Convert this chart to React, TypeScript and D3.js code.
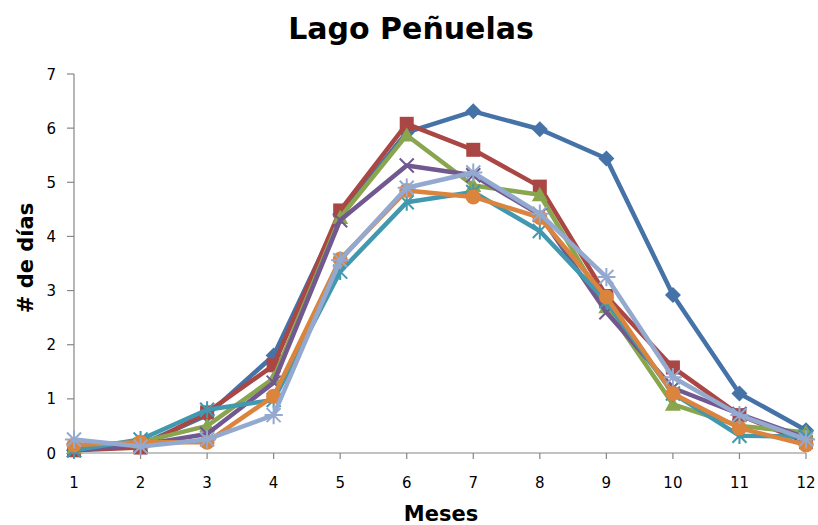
import React from "react";
import * as d3 from "d3";

const months = [1, 2, 3, 4, 5, 6, 7, 8, 9, 10, 11, 12];
const yTicks = [0, 1, 2, 3, 4, 5, 6, 7];

const serie1 = [0.05, 0.15, 0.7, 1.8, 4.4, 5.92, 6.31, 5.98, 5.44, 2.92, 1.1, 0.42];
const serie2 = [0.05, 0.1, 0.75, 1.62, 4.48, 6.08, 5.6, 4.92, 2.9, 1.58, 0.7, 0.2];
const serie3 = [0.1, 0.2, 0.5, 1.38, 4.35, 5.87, 4.94, 4.77, 2.7, 0.9, 0.5, 0.38];
const serie4 = [0.05, 0.15, 0.35, 1.3, 4.3, 5.31, 5.13, 4.4, 2.6, 1.2, 0.72, 0.28];
const serie5 = [0.05, 0.25, 0.8, 0.98, 3.35, 4.63, 4.82, 4.1, 2.8, 1.1, 0.32, 0.3];
const serie6 = [0.15, 0.2, 0.2, 1.05, 3.58, 4.85, 4.73, 4.35, 2.88, 1.1, 0.46, 0.15];
const serie7 = [0.25, 0.12, 0.25, 0.7, 3.56, 4.9, 5.18, 4.42, 3.25, 1.4, 0.7, 0.25];

const seriesList = [serie1, serie2, serie3, serie4, serie5, serie6, serie7];
const colors = ["#4572A7", "#AA4643", "#89A54E", "#71588F", "#4198AF", "#DB843D", "#93A9CF"];
const markers = ["diamond", "square", "triangle", "x", "star", "circle", "asterisk"];

const W = 818;
const H = 525;
const left = 74;
const right = 806;
const top = 74;
const bottom = 453;

function Marker({ type, x, y, color }: { type: string; x: number; y: number; color: string }) {
  const sw = 2;
  if (type === "diamond") {
    const r = 8;
    return <path d={`M${x},${y - r}L${x + r},${y}L${x},${y + r}L${x - r},${y}Z`} fill={color} />;
  }
  if (type === "square") {
    const r = 7;
    return <rect x={x - r} y={y - r} width={2 * r} height={2 * r} fill={color} />;
  }
  if (type === "triangle") {
    const r = 8;
    return <path d={`M${x},${y - r}L${x + r},${y + r * 0.8}L${x - r},${y + r * 0.8}Z`} fill={color} />;
  }
  if (type === "circle") {
    return <circle cx={x} cy={y} r={7.5} fill={color} />;
  }
  if (type === "x") {
    const r = 7;
    return (
      <path d={`M${x - r},${y - r}L${x + r},${y + r}M${x - r},${y + r}L${x + r},${y - r}`} stroke={color} strokeWidth={sw} />
    );
  }
  if (type === "star") {
    const r = 7;
    return (
      <path
        d={`M${x - r},${y - r}L${x + r},${y + r}M${x - r},${y + r}L${x + r},${y - r}M${x},${y - r * 1.2}L${x},${y + r * 1.2}`}
        stroke={color}
        strokeWidth={sw}
      />
    );
  }
  const r = 7;
  return (
    <path
      d={`M${x - r},${y - r}L${x + r},${y + r}M${x - r},${y + r}L${x + r},${y - r}M${x},${y - r * 1.3}L${x},${y + r * 1.3}M${x - r * 1.3},${y}L${x + r * 1.3},${y}`}
      stroke={color}
      strokeWidth={sw}
    />
  );
}

export default function App() {
  const x = d3.scaleLinear().domain([1, 12]).range([left, right]);
  const y = d3.scaleLinear().domain([0, 7]).range([bottom, top]);
  const line = d3
    .line<number>()
    .x((_, i) => x(months[i]))
    .y((d) => y(d));

  return (
    <svg width={W} height={H} style={{ position: "absolute", left: 0, top: 0 }}>
      <rect width={W} height={H} fill="#fff" />
      <text x={411} y={39} textAnchor="middle" fontFamily="DejaVu Sans" fontWeight="bold" fontSize={30} fill="#000">
        Lago Peñuelas
      </text>
      {/* axes */}
      <line x1={left} x2={left} y1={top} y2={bottom} stroke="#868686" strokeWidth={1.2} />
      <line x1={left} x2={right} y1={bottom} y2={bottom} stroke="#868686" strokeWidth={1.2} />
      {yTicks.map((t) => (
        <g key={"y" + t}>
          <line x1={left - 7} x2={left} y1={y(t)} y2={y(t)} stroke="#868686" strokeWidth={1.2} />
          <text x={56} y={y(t) + 5.5} textAnchor="end" fontFamily="DejaVu Sans" fontSize={15} fill="#000">
            {t}
          </text>
        </g>
      ))}
      {months.map((m) => (
        <g key={"x" + m}>
          <line x1={x(m)} x2={x(m)} y1={bottom} y2={bottom + 6} stroke="#868686" strokeWidth={1.2} />
          <text x={x(m)} y={488} textAnchor="middle" fontFamily="DejaVu Sans" fontSize={15} fill="#000">
            {m}
          </text>
        </g>
      ))}
      <text x={441} y={521} textAnchor="middle" fontFamily="DejaVu Sans" fontWeight="bold" fontSize={21} fill="#000">
        Meses
      </text>
      <text
        transform={`translate(33,258) rotate(-90)`}
        textAnchor="middle"
        fontFamily="DejaVu Sans"
        fontWeight="bold"
        fontSize={21}
        fill="#000"
      >
        # de días
      </text>
      {/* series */}
      {seriesList.map((s, si) => (
        <g key={"s" + si}>
          <path d={line(s) || ""} fill="none" stroke={colors[si]} strokeWidth={4.5} strokeLinejoin="round" />
          {s.map((v, i) => (
            <Marker key={i} type={markers[si]} x={x(months[i])} y={y(v)} color={colors[si]} />
          ))}
        </g>
      ))}
    </svg>
  );
}
